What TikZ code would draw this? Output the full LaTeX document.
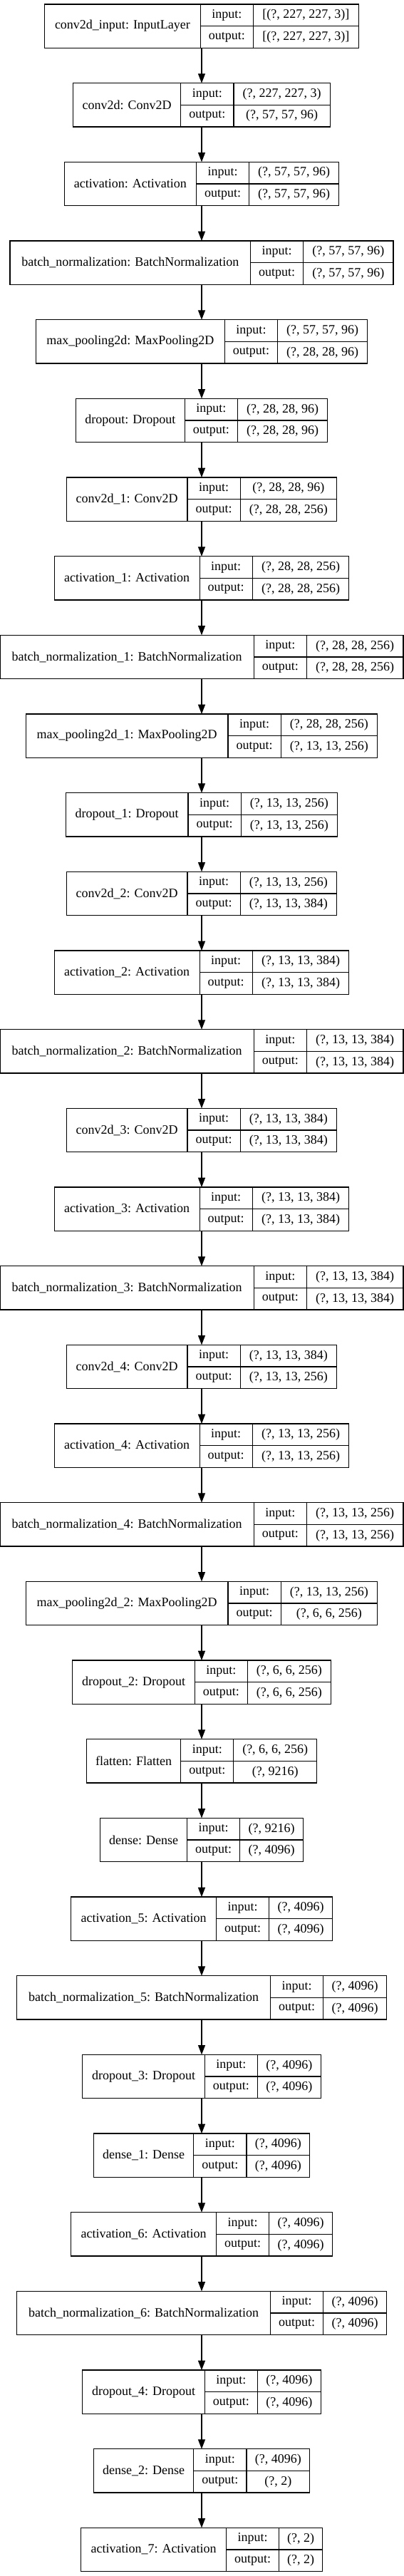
\documentclass[tikz,border=0pt]{standalone}
\usepackage{fontspec}
\setmainfont{Liberation Serif}
\usetikzlibrary{arrows.meta}
\newlength\mwA \newlength\mwB \newlength\mwC \newlength\mwT
\newcommand\measurefont{\fontsize{14pt}{16pt}\selectfont}
\tikzset{
  field/.style={draw=black, line width=0.9pt, inner sep=0pt, outer sep=0pt,
    minimum height=23pt, font=\fontsize{13.5pt}{16pt}\selectfont},
  boxframe/.style={inner sep=0pt, outer sep=0pt, minimum height=46pt},
  arr/.style={line width=0.9pt, -{Triangle[length=10pt,width=7.5pt]}}
}
\newcommand\layerdata{%
\LL{0}{conv2d\_input: InputLayer}{[(?, 227, 227, 3)]}{[(?, 227, 227, 3)]}%
\LL{1}{conv2d: Conv2D}{(?, 227, 227, 3)}{(?, 57, 57, 96)}%
\LL{2}{activation: Activation}{(?, 57, 57, 96)}{(?, 57, 57, 96)}%
\LL{3}{batch\_normalization: BatchNormalization}{(?, 57, 57, 96)}{(?, 57, 57, 96)}%
\LL{4}{max\_pooling2d: MaxPooling2D}{(?, 57, 57, 96)}{(?, 28, 28, 96)}%
\LL{5}{dropout: Dropout}{(?, 28, 28, 96)}{(?, 28, 28, 96)}%
\LL{6}{conv2d\_1: Conv2D}{(?, 28, 28, 96)}{(?, 28, 28, 256)}%
\LL{7}{activation\_1: Activation}{(?, 28, 28, 256)}{(?, 28, 28, 256)}%
\LL{8}{batch\_normalization\_1: BatchNormalization}{(?, 28, 28, 256)}{(?, 28, 28, 256)}%
\LL{9}{max\_pooling2d\_1: MaxPooling2D}{(?, 28, 28, 256)}{(?, 13, 13, 256)}%
\LL{10}{dropout\_1: Dropout}{(?, 13, 13, 256)}{(?, 13, 13, 256)}%
\LL{11}{conv2d\_2: Conv2D}{(?, 13, 13, 256)}{(?, 13, 13, 384)}%
\LL{12}{activation\_2: Activation}{(?, 13, 13, 384)}{(?, 13, 13, 384)}%
\LL{13}{batch\_normalization\_2: BatchNormalization}{(?, 13, 13, 384)}{(?, 13, 13, 384)}%
\LL{14}{conv2d\_3: Conv2D}{(?, 13, 13, 384)}{(?, 13, 13, 384)}%
\LL{15}{activation\_3: Activation}{(?, 13, 13, 384)}{(?, 13, 13, 384)}%
\LL{16}{batch\_normalization\_3: BatchNormalization}{(?, 13, 13, 384)}{(?, 13, 13, 384)}%
\LL{17}{conv2d\_4: Conv2D}{(?, 13, 13, 384)}{(?, 13, 13, 256)}%
\LL{18}{activation\_4: Activation}{(?, 13, 13, 256)}{(?, 13, 13, 256)}%
\LL{19}{batch\_normalization\_4: BatchNormalization}{(?, 13, 13, 256)}{(?, 13, 13, 256)}%
\LL{20}{max\_pooling2d\_2: MaxPooling2D}{(?, 13, 13, 256)}{(?, 6, 6, 256)}%
\LL{21}{dropout\_2: Dropout}{(?, 6, 6, 256)}{(?, 6, 6, 256)}%
\LL{22}{flatten: Flatten}{(?, 6, 6, 256)}{(?, 9216)}%
\LL{23}{dense: Dense}{(?, 9216)}{(?, 4096)}%
\LL{24}{activation\_5: Activation}{(?, 4096)}{(?, 4096)}%
\LL{25}{batch\_normalization\_5: BatchNormalization}{(?, 4096)}{(?, 4096)}%
\LL{26}{dropout\_3: Dropout}{(?, 4096)}{(?, 4096)}%
\LL{27}{dense\_1: Dense}{(?, 4096)}{(?, 4096)}%
\LL{28}{activation\_6: Activation}{(?, 4096)}{(?, 4096)}%
\LL{29}{batch\_normalization\_6: BatchNormalization}{(?, 4096)}{(?, 4096)}%
\LL{30}{dropout\_4: Dropout}{(?, 4096)}{(?, 4096)}%
\LL{31}{dense\_2: Dense}{(?, 4096)}{(?, 2)}%
\LL{32}{activation\_7: Activation}{(?, 2)}{(?, 2)}%
}
\newcommand\measurelayer[4]{%
  \settowidth\mwA{\measurefont #2}\addtolength\mwA{16pt}%
  \settowidth\mwB{\measurefont output:}\addtolength\mwB{16pt}%
  \settowidth\mwC{\measurefont #3}%
  \settowidth\mwT{\measurefont #4}%
  \ifdim\mwT>\mwC \mwC=\mwT \fi
  \addtolength\mwC{16pt}%
  \mwT=\mwA \advance\mwT\mwB \advance\mwT\mwC
  \expandafter\xdef\csname WA#1\endcsname{\the\mwA}%
  \expandafter\xdef\csname WB#1\endcsname{\the\mwB}%
  \expandafter\xdef\csname WC#1\endcsname{\the\mwC}%
  \expandafter\xdef\csname WT#1\endcsname{\the\mwT}%
}
\newcommand\drawlayer[4]{%
  \node[boxframe, minimum width=\csname WT#1\endcsname] (L#1) at (212.25pt, {-4.5pt-83pt*#1-23pt}) {};
  \node[field, minimum width=\csname WA#1\endcsname, minimum height=46pt, anchor=north west] (L#1-n) at (L#1.north west) {#2};
  \node[field, minimum width=\csname WB#1\endcsname, anchor=north west] (L#1-il) at (L#1-n.north east) {input:};
  \node[field, minimum width=\csname WB#1\endcsname, anchor=north west] (L#1-ol) at (L#1-il.south west) {output:};
  \node[field, minimum width=\csname WC#1\endcsname, anchor=north west] (L#1-iv) at (L#1-il.north east) {#3};
  \node[field, minimum width=\csname WC#1\endcsname, anchor=north west] (L#1-ov) at (L#1-iv.south west) {#4};
}
\begin{document}
\let\LL\measurelayer
\layerdata
\begin{tikzpicture}
\fill[white] (0,0) rectangle (425.25pt,-2711.25pt);
\useasboundingbox (0,0) rectangle (425.25pt,-2711.25pt);
\let\LL\drawlayer
\layerdata
\foreach \i [evaluate=\i as \j using int(\i+1)] in {0,...,31}
  \draw[arr] (L\i.south) -- (L\j.north);
\end{tikzpicture}
\end{document}
